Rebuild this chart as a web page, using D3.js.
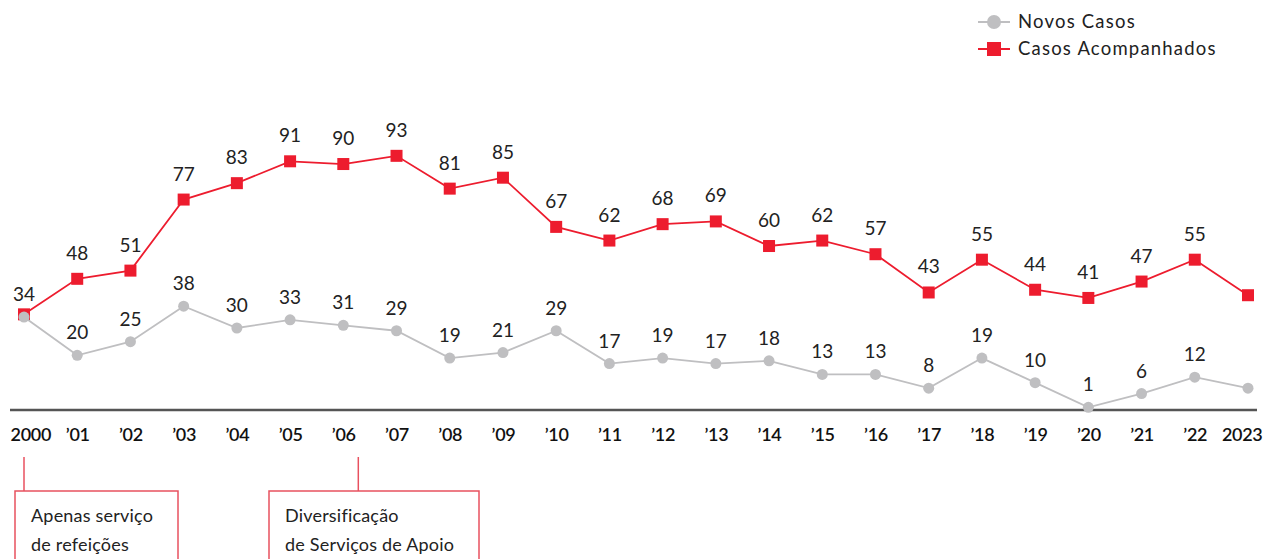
<!DOCTYPE html>
<html lang="pt">
<head>
<meta charset="UTF-8">
<title>Casos</title>
<script src="https://cdn.jsdelivr.net/npm/d3@7"></script>
<style>
  body { margin: 0; background: #fff; }
  text { font-family: Lato, "Open Sans", sans-serif; }
  .val { font-size: 19px; fill: #222; text-anchor: middle; }
  .tick text { font-size: 18px; fill: #111; font-weight: 600; letter-spacing: -0.3px; }
  .legend text { font-size: 18.5px; fill: #222; letter-spacing: 1.2px; }
  .note { font-size: 18px; fill: #222; letter-spacing: 0.2px; }
</style>
</head>
<body>
<div id="chart"></div>
<script>
var width = 1265, height = 559;

// data
var years = ['2000','’01','’02','’03','’04','’05','’06','’07','’08','’09','’10','’11',
             '’12','’13','’14','’15','’16','’17','’18','’19','’20','’21','’22','2023'];
var acompanhados = [35,48,51,77,83,91,90,93,81,85,67,62,68,69,60,62,57,43,55,44,41,47,55,42];
var acompLabels  = [null,48,51,77,83,91,90,93,81,85,67,62,68,69,60,62,57,43,55,44,41,47,55,null];
var novos = [34,20,25,38,30,33,31,29,19,21,29,17,19,17,18,13,13,8,19,10,1,6,12,8];
var novosLabels = [34,20,25,38,30,33,31,29,19,21,29,17,19,17,18,13,13,8,19,10,1,6,12,null];
var notes = [
  { year: '2000', lines: ['Apenas serviço', 'de refeições'] },
  { year: '’06', lines: ['Diversificação', 'de Serviços de Apoio'] }
];

var red = '#ed1c2e', grey = '#bfbfc1';

var svg = d3.select('#chart').append('svg')
  .attr('width', width).attr('height', height);

var x = d3.scalePoint().domain(years).range([24, 1248]);
var y = d3.scaleLinear().domain([0, 100]).range([410, 136.7]);

// axis
var xAxis = d3.axisBottom(x).tickSize(0).tickPadding(18);
var axisG = svg.append('g')
  .attr('transform', 'translate(0,410)')
  .call(xAxis);
axisG.select('.domain').remove();
axisG.selectAll('.tick text').attr('font-family', null);
// keep end labels inside the frame
axisG.selectAll('.tick text')
  .filter(function(d){ return d == '2000' })
  .attr('text-anchor', 'start').attr('x', -14);
axisG.selectAll('.tick text')
  .filter(function(d){ return d == '2023' })
  .attr('text-anchor', 'end').attr('x', 14);
svg.append('line')
  .attr('x1', 10).attr('x2', 1257)
  .attr('y1', 410).attr('y2', 410)
  .attr('stroke', '#555').attr('stroke-width', 2.5);

var line = d3.line()
  .x(function(d, i){ return x(years[i]) })
  .y(function(d){ return y(d) });

// red series
svg.append('path').datum(acompanhados)
  .attr('d', line).attr('fill', 'none')
  .attr('stroke', red).attr('stroke-width', 1.8);
svg.selectAll('.sq').data(acompanhados).enter().append('rect')
  .attr('class', 'sq')
  .attr('x', function(d, i){ return x(years[i]) - 6 })
  .attr('y', function(d){ return y(d) - 6 })
  .attr('width', 12).attr('height', 12)
  .attr('fill', red);

// grey series
svg.append('path').datum(novos)
  .attr('d', line).attr('fill', 'none')
  .attr('stroke', grey).attr('stroke-width', 1.8);
svg.selectAll('.dot').data(novos).enter().append('circle')
  .attr('class', 'dot')
  .attr('cx', function(d, i){ return x(years[i]) })
  .attr('cy', function(d){ return y(d) })
  .attr('r', 5.5)
  .attr('fill', grey);

// value labels
acompLabels.forEach(function(d, i){
  if (d == null) return;
  svg.append('text').attr('class', 'val')
    .attr('x', x(years[i])).attr('y', y(acompanhados[i]) - 19)
    .text(d);
});
novosLabels.forEach(function(d, i){
  if (d == null) return;
  svg.append('text').attr('class', 'val')
    .attr('x', x(years[i])).attr('y', y(novos[i]) - 16)
    .text(d);
});

// legend
var legend = svg.append('g').attr('class', 'legend');
var items = [
  { name: 'Novos Casos', color: grey, shape: 'circle' },
  { name: 'Casos Acompanhados', color: red, shape: 'rect' }
];
items.forEach(function(it, i){
  var ly = 22 + i * 27;
  legend.append('line').attr('x1', 978).attr('x2', 1010)
    .attr('y1', ly).attr('y2', ly)
    .attr('stroke', it.color).attr('stroke-width', 2);
  if (it.shape == 'circle') {
    legend.append('circle').attr('cx', 994).attr('cy', ly).attr('r', 7).attr('fill', it.color);
  } else {
    legend.append('rect').attr('x', 987).attr('y', ly - 7)
      .attr('width', 14).attr('height', 14).attr('fill', it.color);
  }
  legend.append('text').attr('x', 1018).attr('y', ly + 6).text(it.name);
});

// annotations
var boxes = [
  { lx: x('2000'), bx: 15, bw: 163 },
  { lx: x('’06') + 15, bx: 269, bw: 210 }
];
notes.forEach(function(n, i){
  var b = boxes[i];
  svg.append('line').attr('x1', b.lx).attr('x2', b.lx)
    .attr('y1', 457).attr('y2', 491)
    .attr('stroke', '#e8515f').attr('stroke-width', 1.5);
  svg.append('rect').attr('x', b.bx).attr('y', 491)
    .attr('width', b.bw).attr('height', 80)
    .attr('fill', 'none').attr('stroke', '#e8515f').attr('stroke-width', 1.5);
  n.lines.forEach(function(t, j){
    svg.append('text').attr('class', 'note')
      .attr('x', b.bx + 16).attr('y', 522 + j * 29)
      .text(t);
  });
});
</script>
</body>
</html>
